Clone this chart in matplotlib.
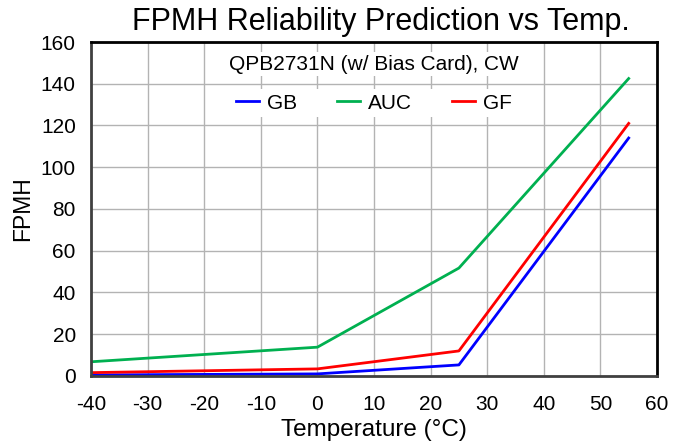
import matplotlib.pyplot as plt

plt.rcParams['font.family'] = ['Liberation Sans', 'DejaVu Sans']
plt.rcParams['axes.unicode_minus'] = False

temp = [-40, 0, 25, 55]
gb = [0.5, 1.0, 5.3, 114]
auc = [6.8, 13.8, 51.7, 142.5]
gf = [1.6, 3.4, 12.0, 121]

fig = plt.figure(figsize=(6.86, 4.44), dpi=100)
ax = fig.add_axes([0.1327, 0.1532, 0.8250, 0.7522])

ax.plot(temp, gb, color='#0000ff', lw=2, label='GB')
ax.plot(temp, auc, color='#00b050', lw=2, label='AUC')
ax.plot(temp, gf, color='#ff0000', lw=2, label='GF')

ax.set_xlim(-40, 60)
ax.set_ylim(0, 160)
ax.set_xticks(range(-40, 61, 10))
ax.set_yticks(range(0, 161, 20))
ax.grid(True, color='#b3b3b3', lw=1)
ax.set_axisbelow(True)
ax.tick_params(length=0, labelsize=15, pad=11)
ax.tick_params(axis='x', pad=13.5)
for s in ax.spines.values():
    s.set_linewidth(2)
    s.set_color('#404040')
ax.spines['top'].set_color('black')
ax.spines['right'].set_color('black')

ax.set_xlabel('Temperature (°C)', fontsize=17.5, labelpad=4)
ax.set_ylabel('FPMH', fontsize=16.5, labelpad=5)
fig.text(0.555, 0.985, 'FPMH Reliability Prediction vs Temp.', fontsize=22,
         ha='center', va='top')

ax.text(0.5, 0.934, 'QPB2731N (w/ Bias Card), CW', transform=ax.transAxes,
        ha='center', va='center', fontsize=15,
        bbox=dict(facecolor='white', edgecolor='none', pad=2))
leg = ax.legend(loc='center', bbox_to_anchor=(0.5, 0.817), ncol=3, frameon=True,
                fontsize=15, handlelength=1.1, handletextpad=0.4, columnspacing=1.9,
                borderpad=0.2)
leg.get_frame().set_edgecolor('none')
leg.get_frame().set_facecolor('white')
leg.get_frame().set_alpha(1)

fig.savefig('out.png', dpi=100)
